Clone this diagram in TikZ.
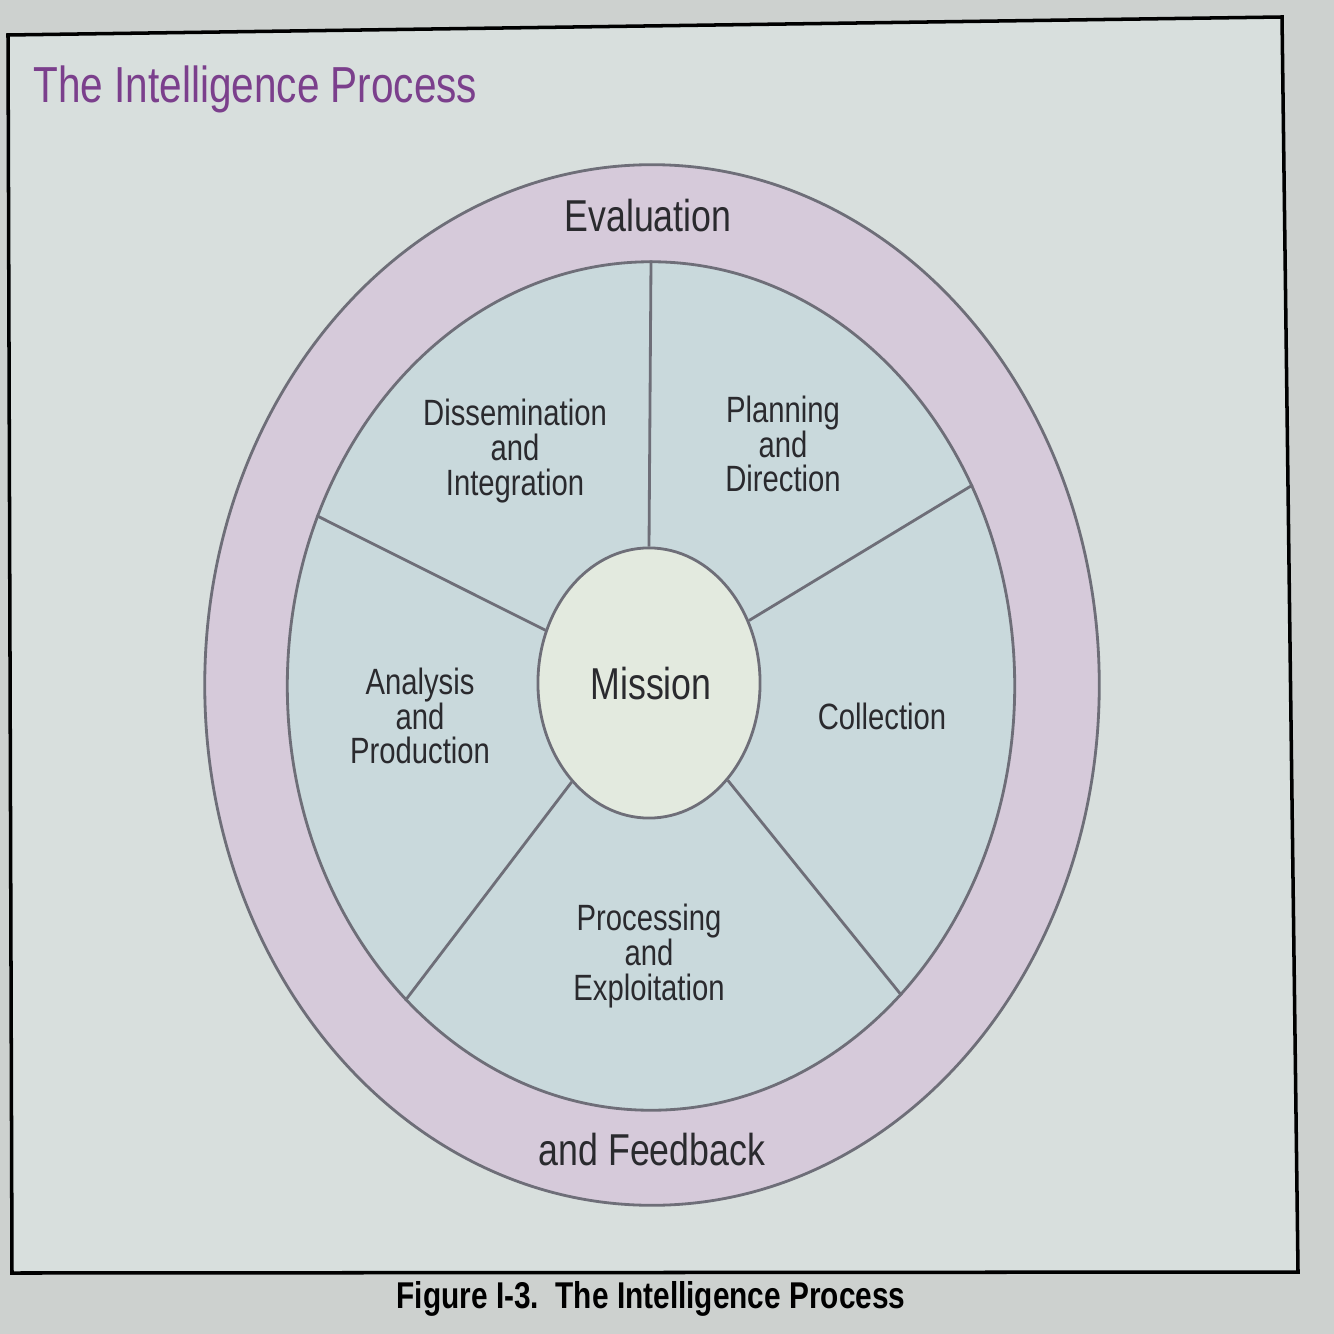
\documentclass[tikz,border=0pt]{standalone}
\usepackage{fontspec}
\setmainfont{Liberation Sans}[FakeStretch=0.8]
\usepackage{tikz}
\usetikzlibrary{shapes.geometric,positioning}
\definecolor{bgout}{HTML}{CDD1CF}
\definecolor{bgin}{HTML}{D8DFDD}
\definecolor{ringfill}{HTML}{D6CADA}
\definecolor{wheelfill}{HTML}{C9D9DC}
\definecolor{missionfill}{HTML}{E3EADF}
\definecolor{edgegrey}{HTML}{6E6E78}
\definecolor{inkdark}{HTML}{2A2A2E}
\definecolor{titlepurple}{HTML}{7B3F8C}
\tikzset{
    %Define style for the rings
    ring/.style={
           ellipse,
           draw=edgegrey, line width=0.8pt,
           inner sep=0pt},
    %Define style for the labels
    bigtxt/.style={
           font=\fontsize{12.7}{13}\selectfont,
           text=inkdark,
           inner sep=0pt},
    steptxt/.style={
           align=center,
           font=\fontsize{10.4}{9.9}\selectfont,
           text=inkdark,
           inner sep=0pt},
    % Define spoke style
    spoke/.style={
           draw=edgegrey, line width=0.8pt}
}

\begin{document}
\begin{tikzpicture}[x=0.01cm,y=-0.01cm]
\useasboundingbox (0,0) rectangle (1334,1334);
\fill[bgout] (0,0) rectangle (1334,1334);
 %frame
\coordinate (fa) at (8,35);
\coordinate (fb) at (1282,17);
\coordinate (fc) at (1298,1272);
\coordinate (fd) at (12,1273);
\filldraw[fill=bgin, draw=black, line width=1pt] (fa) -- (fb) -- (fc) -- (fd) -- cycle;
\node[anchor=base west, inner sep=0pt, text=titlepurple,
  font=\fontsize{14.4}{15}\selectfont] (title) at (33,103) {The Intelligence Process};
 %rings
\node[ring, fill=ringfill, minimum width=8.94cm, minimum height=10.4cm] (outer) at (652,685) {};
\node[ring, fill=wheelfill, minimum width=7.27cm, minimum height=8.48cm] (inner) at (651,686) {};
\node[ring, fill=missionfill, minimum width=2.22cm, minimum height=2.7cm] (mission) at (649,683) {};
 %spokes
\path[spoke]
  (mission.90) -- (inner.90)
  (mission.32) -- (inner.32)
  (mission.-51) -- (inner.-51)
  (mission.-128) -- (inner.-128)
  (mission.153) -- (inner.153);
 %labels
\node[bigtxt, anchor=base] (eval) at (648,232) {Evaluation};
\node[bigtxt, anchor=base] (feedback) at (652,1165) {and Feedback};
\node[bigtxt] (mtext) at (651,684) {Mission};
\node[steptxt] (dissem) at (515,451) {Dissemination\\and\\Integration};
\node[steptxt] (plan) at (783,444) {Planning\\and\\Direction};
\node[steptxt] (coll) at (882,716) {Collection};
\node[steptxt] (proc) at (649,956) {Processing\\and\\Exploitation};
\node[steptxt] (anal) at (420,716) {Analysis\\and\\Production};
\node[anchor=base, inner sep=0pt, text=black,
  font=\fontsize{10.6}{11}\selectfont\bfseries] (caption) at (651,1308)
  {Figure I-3.\ \ The Intelligence Process};
\end{tikzpicture}
\end{document}
